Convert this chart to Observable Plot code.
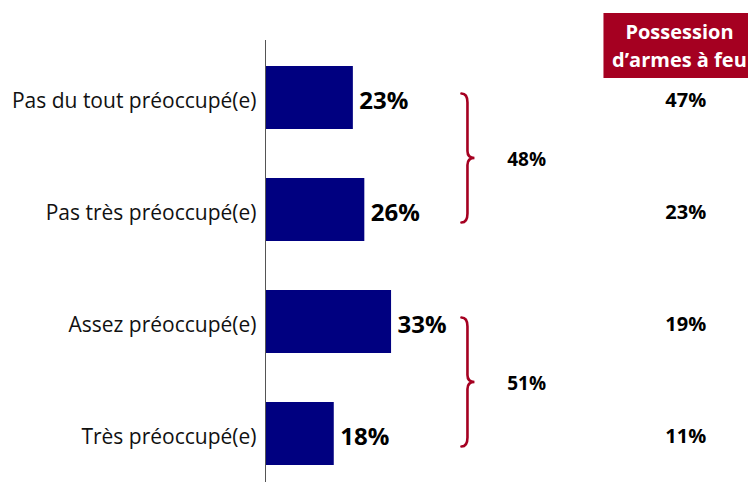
<!DOCTYPE html>
<html>
<head>
<meta charset="utf-8">
<script src="https://cdn.jsdelivr.net/npm/d3@7"></script>
<script src="https://cdn.jsdelivr.net/npm/@observablehq/plot@0.6"></script>
<style>
  html, body { margin: 0; padding: 0; background: #fff; }
  #chart { width: 748px; height: 482px; overflow: hidden; }
</style>
</head>
<body>
<div id="chart"></div>
<script>
const categories = ["Pas du tout préoccupé(e)", "Pas très préoccupé(e)", "Assez préoccupé(e)", "Très préoccupé(e)"];
const shares = [23, 26, 33, 18];
const firearms = [47, 23, 19, 11];
const groupMembers = [[0, 1], [2, 3]];
const groupValues = [48, 51];
const headerLines = ["Possession", "d’armes à feu"];

const data = categories.map((c, i) => ({cat: c, share: shares[i], arms: firearms[i]}));
const groups = groupMembers.map((m, i) => ({first: categories[m[0]], last: categories[m[m.length - 1]], value: groupValues[i]}));

const RED = "#A50021";
const FONT = "'Open Sans', Lato, sans-serif";
const BRACE_X = 53;     // x-scale units
const GROUP_X = 68.5;
const COL_X = 110;
const HEAD_X = 108.5;

function decorations(index, scales, values, dimensions) {
  const x = scales.x, y = scales.y;
  const bw = typeof y.bandwidth === "function" ? y.bandwidth() : y.bandwidth;
  const svg = d3.create("svg:g");
  for (const g of groups) {
    const top = y(g.first) + bw / 2 - 4;
    const bot = y(g.last) + bw / 2 + 13;
    const mid = (top + bot) / 2;
    const x0 = x(BRACE_X);
    const p = d3.path();
    p.moveTo(x0 - 6, top);
    p.quadraticCurveTo(x0, top, x0, top + 9);
    p.lineTo(x0, mid - 7);
    p.quadraticCurveTo(x0, mid, x0 + 7, mid);
    p.quadraticCurveTo(x0, mid, x0, mid + 7);
    p.lineTo(x0, bot - 9);
    p.quadraticCurveTo(x0, bot, x0 - 6, bot);
    svg.append("path").attr("d", p.toString()).attr("fill", "none")
      .attr("stroke", RED).attr("stroke-width", 2.6).attr("stroke-linecap", "round");
    svg.append("text").attr("x", x(GROUP_X)).attr("y", mid + 1).attr("dy", "0.35em")
      .attr("text-anchor", "middle").attr("font-weight", "bold").attr("font-size", 19)
      .attr("font-family", FONT).attr("fill", "#000").text(g.value + "%");
  }
  const hx = x(HEAD_X);
  svg.append("rect").attr("x", hx - 76).attr("y", 13).attr("width", 160).attr("height", 65).attr("fill", RED);
  headerLines.forEach((t, i) => {
    svg.append("text").attr("x", hx).attr("y", 32 + i * 28).attr("dy", "0.35em")
      .attr("text-anchor", "middle").attr("font-weight", "bold").attr("font-size", 20)
      .attr("font-family", FONT).attr("fill", "#fff").text(t);
  });
  return svg.node();
}

const chart = Plot.plot({
  width: 748,
  height: 482,
  marginLeft: 265,
  marginRight: 101,
  marginTop: 48,
  marginBottom: 0,
  style: {fontFamily: FONT, background: "#fff", overflow: "visible"},
  x: {domain: [0, 100], axis: null},
  y: {domain: categories, paddingInner: 0.44, paddingOuter: 0.15, axis: null},
  marks: [
    Plot.barX(data, {x: "share", y: "cat", fill: "#000080"}),
    Plot.ruleX([0], {stroke: "#555", strokeWidth: 1, insetTop: -8}),
    Plot.text(data, {x: 0, y: "cat", text: "cat", textAnchor: "end", dx: -9, dy: 3, fontSize: 21, fill: "#111"}),
    Plot.text(data, {x: "share", y: "cat", text: d => d.share + "%", textAnchor: "start", dx: 6, dy: 3, fontSize: 24, fontWeight: "bold", fill: "#000"}),
    Plot.text(data, {x: COL_X, y: "cat", text: d => d.arms + "%", textAnchor: "middle", dy: 3, fontSize: 20, fontWeight: "bold", fill: "#000"}),
    decorations
  ]
});
document.getElementById("chart").appendChild(chart);
</script>
</body>
</html>
